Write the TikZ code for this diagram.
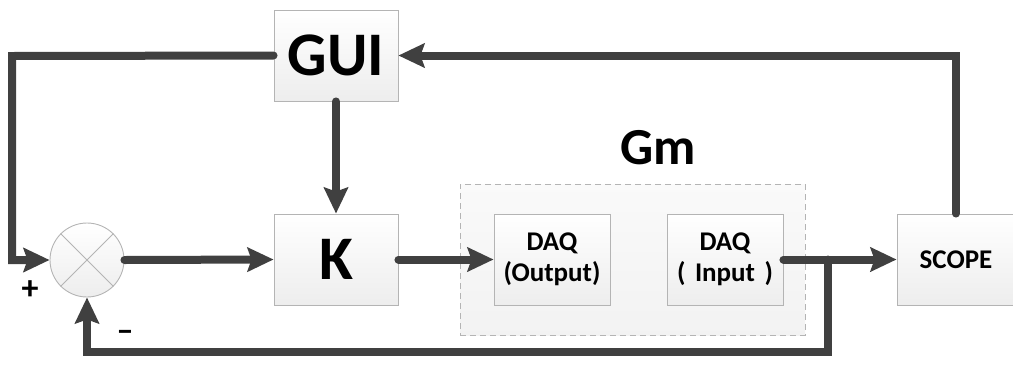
\documentclass[tikz,border=0pt]{standalone}
\usepackage{fontspec}
\setmainfont{Carlito}
\usetikzlibrary{arrows.meta,calc}
\definecolor{wire}{HTML}{404040}
\definecolor{edge}{HTML}{B4B4B4}
\tikzset{
  block/.style={draw=edge, line width=0.9pt, top color=white, bottom color=black!7,
    minimum width=124pt, minimum height=91pt, inner sep=0pt, font=\bfseries},
  small/.style={block, minimum width=116pt, font=\fontsize{27}{31}\selectfont\bfseries, align=center},
  big/.style={font=\fontsize{62}{62}\selectfont\bfseries},
  wireline/.style={draw=wire, line width=8pt, line cap=round},
  flow/.style={wireline, -{Stealth[length=26pt, width=24pt, inset=4pt, line cap=butt]}},
  sign/.style={font=\fontsize{34}{34}\selectfont\bfseries}
}
\begin{document}
\begin{tikzpicture}[x=1pt, y=-1pt]
\useasboundingbox (0,0) rectangle (1013,373);

% plant group
\node (gm) [draw=edge, dashed, dash pattern=on 6pt off 4pt, line width=0.8pt,
  top color=black!2, bottom color=black!5, minimum width=345pt, minimum height=151pt,
  inner sep=0pt] at (632.5,259.5) {};
\node (gmlabel) [font=\fontsize{52}{52}\selectfont\bfseries] at (658,148) {Gm};

% blocks
\node (gui) [block, big] at (336,55.5) {GUI};
\node (k) [block, big] at (336,259.5) {K};
\node (dqout) [small] at (552,259.5) {DAQ\\(Output)};
\node (dqin) [small] at (725,259.5) {DAQ\\(\hspace{0.35em}Input\hspace{0.35em})};
\node (scope) [block, minimum width=118pt, font=\fontsize{27}{31}\selectfont\bfseries] at (956,259.5) {SCOPE};

% summing junction
\node (sum) [circle, draw=edge, line width=0.9pt, top color=white, bottom color=black!7,
  minimum size=74pt, inner sep=0pt] at (87,260) {};
\draw[edge, line width=0.9pt] (sum.north west) -- (sum.south east);
\draw[edge, line width=0.9pt] (sum.north east) -- (sum.south west);

% forward path
\draw[flow] (sum.east) -- (k.west);
\draw[flow] (k.east) -- (dqout.west);
\draw[flow] (dqin.east) -- (scope.west);
\draw[flow] (gui.south) -- (k.north);

% reference from GUI to the junction
\coordinate (tl) at (12,56);
\draw[flow] (gui.west) -- (tl) |- (sum.west);

% scope back to GUI
\coordinate (tr) at (scope.north |- gui.east);
\draw[flow] (scope.north) -- (tr) -- (gui.east);

% negative feedback
\coordinate (br) at (828,259.5);
\coordinate (bb) at (828,352);
\draw[flow] (br) -- (bb) -| (sum.south);

% signs
\node (plus) [sign] at (30,290) {+};
\node (minus) [sign] at (125,336) {–};
\end{tikzpicture}
\end{document}
